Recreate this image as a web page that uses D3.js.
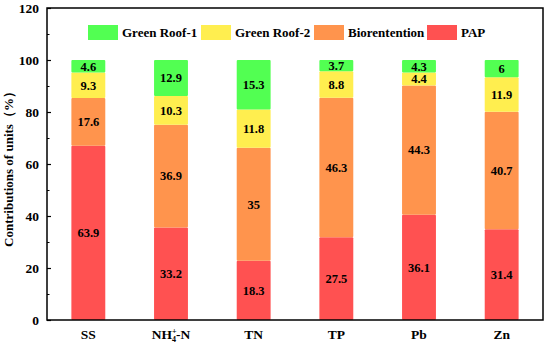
<!DOCTYPE html>
<html>
<head>
<meta charset="utf-8">
<script src="https://cdn.jsdelivr.net/npm/d3@7"></script>
<style>
  body { margin: 0; background: #fff; }
  svg text { font-family: 'Liberation Serif', 'Times New Roman', Times, serif !important; font-weight: bold; }
</style>
</head>
<body>
<script>
const width = 550;
const height = 346;

// data (labels are raw values, bars are normalised to 100%)
const categories = ['SS', 'NH4-N', 'TN', 'TP', 'Pb', 'Zn'];
const seriesNames = ['PAP', 'Biorentention', 'Green Roof-2', 'Green Roof-1'];
const pap = [63.9, 33.2, 18.3, 27.5, 36.1, 31.4];
const biorentention = [17.6, 36.9, 35, 46.3, 44.3, 40.7];
const greenRoof2 = [9.3, 10.3, 11.8, 8.8, 4.4, 11.9];
const greenRoof1 = [4.6, 12.9, 15.3, 3.7, 4.3, 6];
const yTicks = [0, 20, 40, 60, 80, 100, 120];
const legendOrder = ['Green Roof-1', 'Green Roof-2', 'Biorentention', 'PAP'];

const colors = {
  'PAP': '#ff5151',
  'Biorentention': '#ff944d',
  'Green Roof-2': '#ffee4f',
  'Green Roof-1': '#52ff52'
};

const font = "'Liberation Serif', 'Times New Roman', serif";
const margin = {left: 47, right: 7, top: 8, bottom: 26};

const rows = categories.map((c, i) => ({
  cat: c,
  'PAP': pap[i],
  'Biorentention': biorentention[i],
  'Green Roof-2': greenRoof2[i],
  'Green Roof-1': greenRoof1[i]
}));

const svg = d3.select('body')
  .append('svg')
  .attr('width', width)
  .attr('height', height)
  .attr('font-family', font);

const x = d3.scaleBand()
  .domain(categories)
  .range([margin.left, width - margin.right])
  .paddingInner(0.59)
  .paddingOuter(0.295);

const y = d3.scaleLinear()
  .domain([0, 120])
  .range([height - margin.bottom, margin.top]);

// stack normalised to 0..1, then *100 for the axis
const stacked = d3.stack()
  .keys(seriesNames)
  .offset(d3.stackOffsetExpand)(rows);

const layers = svg.append('g').selectAll('g')
  .data(stacked)
  .enter().append('g')
    .attr('fill', d => colors[d.key]);

layers.selectAll('rect')
  .data(d => d)
  .enter().append('rect')
    .attr('x', d => x(d.data.cat))
    .attr('width', x.bandwidth())
    .attr('y', d => y(d[1] * 100))
    .attr('height', d => y(d[0] * 100) - y(d[1] * 100))
    .attr('rx', 1);

// value labels
stacked.forEach(layer => {
  svg.append('g').selectAll('text')
    .data(layer)
    .enter().append('text')
      .attr('x', d => x(d.data.cat) + x.bandwidth() / 2)
      .attr('y', d => y((d[0] + d[1]) / 2 * 100))
      .attr('dy', '0.35em')
      .attr('text-anchor', 'middle')
      .attr('font-family', font)
      .attr('font-size', 12.5)
      .attr('fill', '#000')
      .text(d => d.data[layer.key]);
});

// frame
svg.append('rect')
  .attr('x', margin.left)
  .attr('y', margin.top)
  .attr('width', width - margin.left - margin.right)
  .attr('height', height - margin.top - margin.bottom)
  .attr('fill', 'none')
  .attr('stroke', '#000')
  .attr('stroke-width', 1.5);

// y axis, ticks pointing inwards
const yAxis = svg.append('g')
  .attr('transform', 'translate(' + margin.left + ',0)')
  .call(d3.axisLeft(y).tickValues(yTicks).tickSizeInner(-4).tickSizeOuter(0).tickPadding(8));
yAxis.select('.domain').remove();
yAxis.attr('font-family', font);
yAxis.selectAll('line').attr('stroke-width', 1.2);
yAxis.selectAll('text')
  .attr('font-size', 13.5)
  .attr('font-family', font)
  .attr('font-weight', 'bold')
  .attr('fill', '#000');

svg.append('g')
  .attr('transform', 'translate(' + margin.left + ',0)')
  .call(d3.axisLeft(y).tickValues(d3.range(10, 120, 20)).tickSize(-2.5).tickFormat(''))
  .call(g => g.select('.domain').remove());

// x labels
const xLab = svg.append('g').selectAll('text')
  .data(categories)
  .enter().append('text')
    .attr('x', d => x(d) + x.bandwidth() / 2)
    .attr('y', height - 7)
    .attr('text-anchor', 'middle')
    .attr('font-family', font)
    .attr('font-size', 13.5)
    .attr('fill', '#000');

xLab.each(function(d) {
  const t = d3.select(this);
  if (d === 'NH4-N') {
    t.append('tspan').text('NH');
    t.append('tspan').attr('font-size', 8).attr('dy', -5).text('+');
    t.append('tspan').attr('font-size', 8).attr('dx', -4.5).attr('dy', 8).text('4');
    t.append('tspan').attr('dy', -3).text('-N');
  } else {
    t.text(d);
  }
});

// y title
svg.append('text')
  .attr('transform', 'translate(13,' + (y(60) + 2) + ') rotate(-90)')
  .attr('text-anchor', 'middle')
  .attr('font-family', font)
  .attr('font-size', 13)
  .attr('fill', '#000')
  .text('Contributions of units（%）');

// legend
const legendX = [88, 201, 314, 427];
const legend = svg.append('g').selectAll('g')
  .data(legendOrder)
  .enter().append('g')
    .attr('transform', (d, i) => 'translate(' + legendX[i] + ',25)');

legend.append('rect')
  .attr('width', 30)
  .attr('height', 15)
  .attr('fill', d => colors[d]);

legend.append('text')
  .attr('x', 34)
  .attr('y', 7.5)
  .attr('dy', '0.35em')
  .attr('font-family', font)
  .attr('font-size', 13)
  .attr('fill', '#000')
  .text(d => d);
</script>
</body>
</html>
